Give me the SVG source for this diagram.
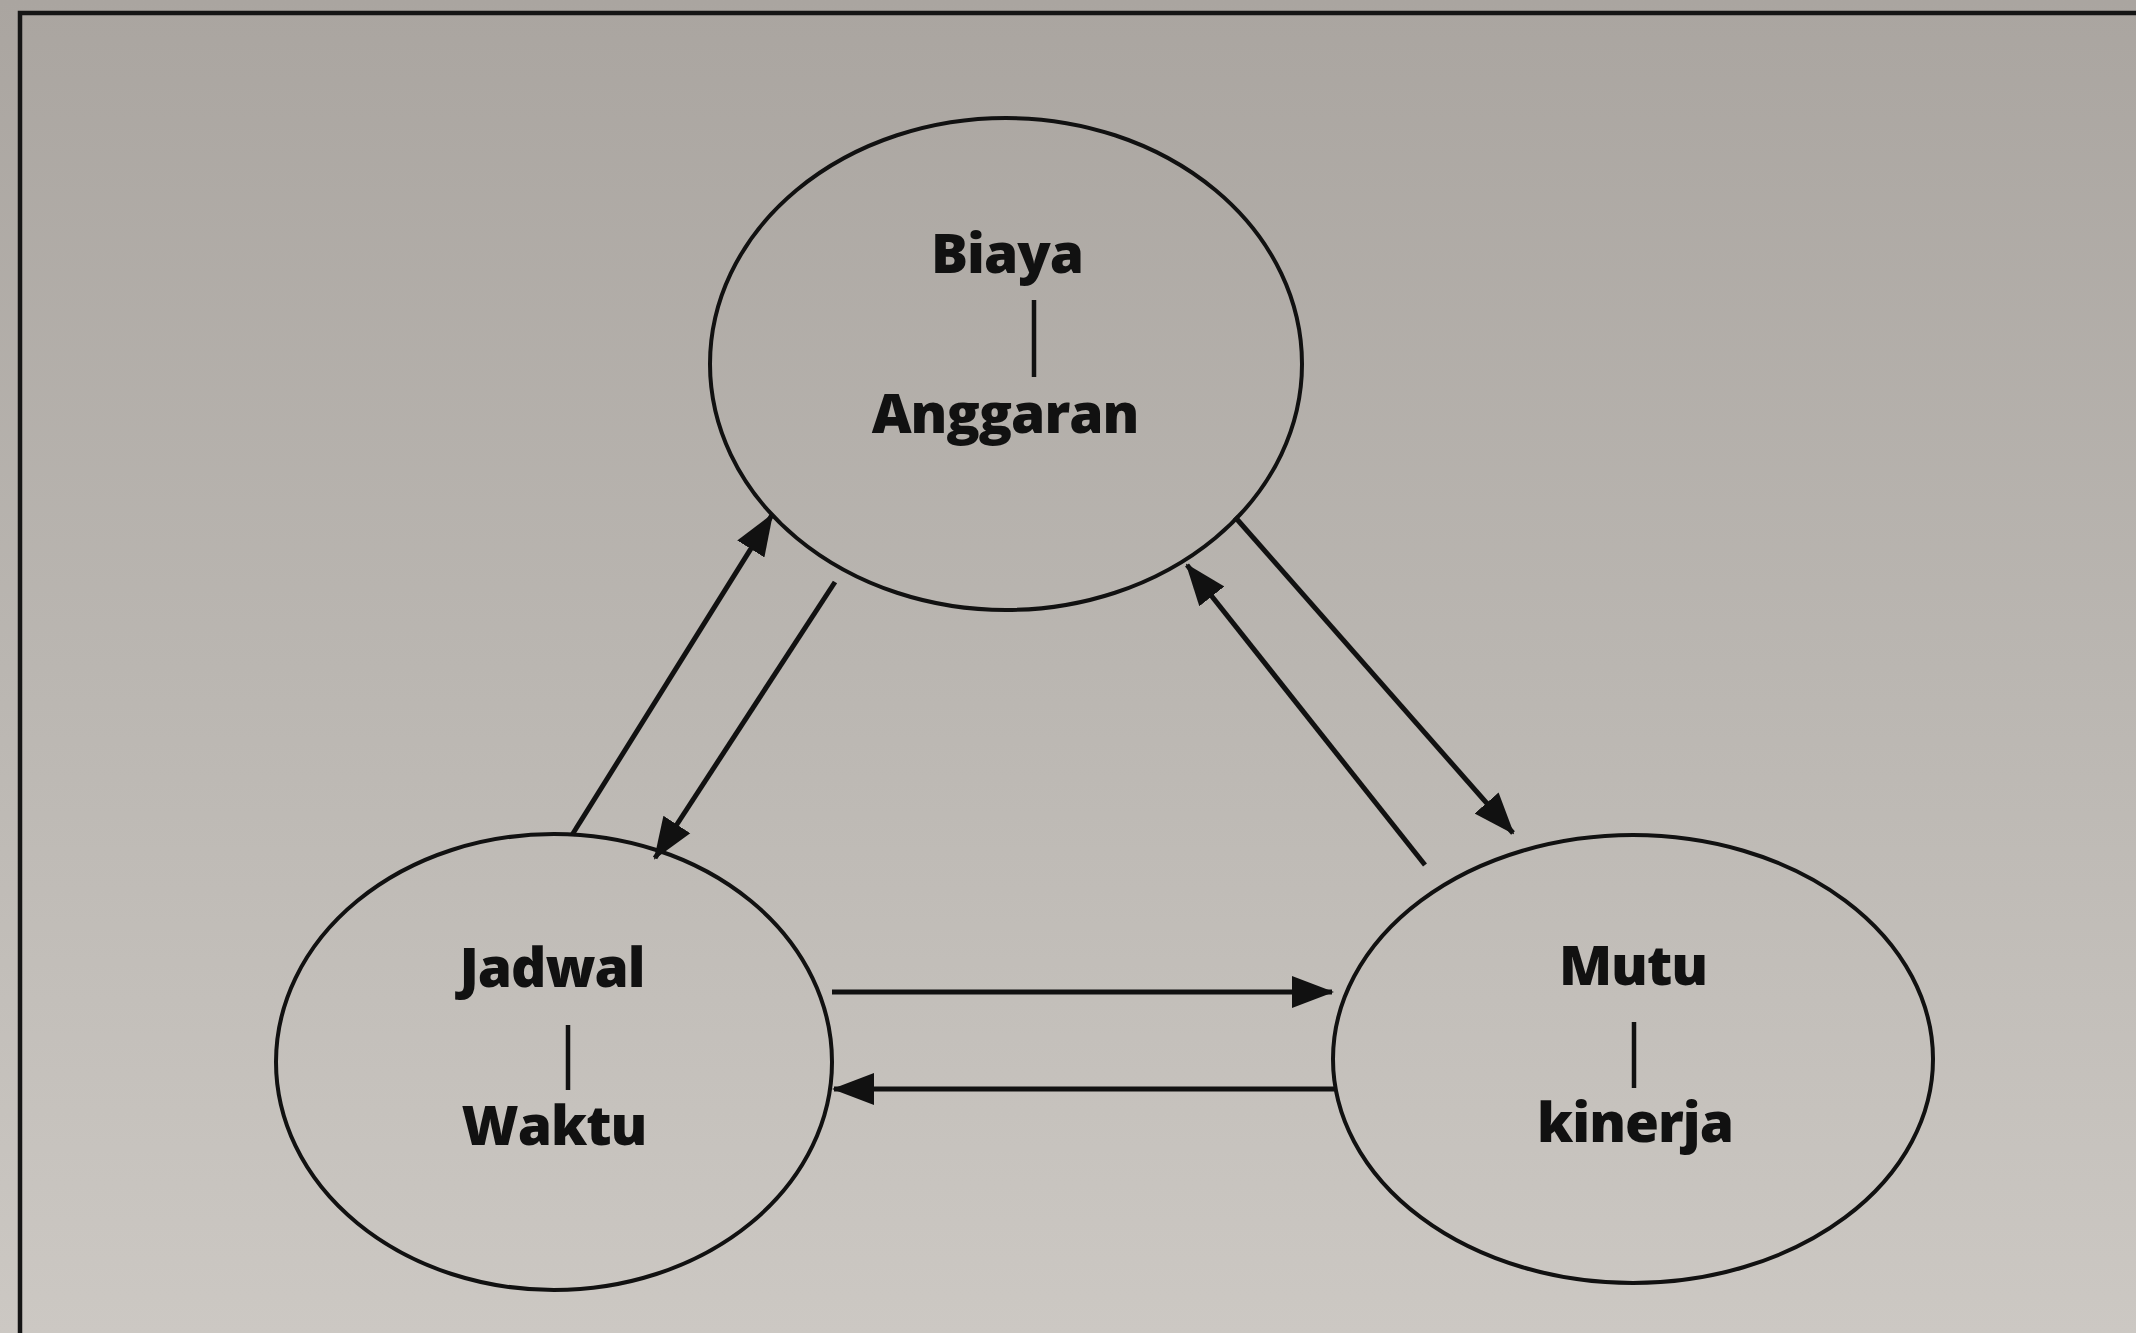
<svg xmlns="http://www.w3.org/2000/svg" width="2136" height="1333" viewBox="0 0 2136 1333">
<defs>
<linearGradient id="bg" x1="0" y1="0" x2="0" y2="1">
<stop offset="0" stop-color="#aaa5a0"/>
<stop offset="0.5" stop-color="#bab6b1"/>
<stop offset="1" stop-color="#ccc8c3"/>
</linearGradient>
<marker id="ah" markerUnits="userSpaceOnUse" markerWidth="42" markerHeight="36" viewBox="0 0 42 36" refX="40" refY="18" orient="auto">
<path d="M0,2 L42,18 L0,34 z" fill="#111"/>
</marker>
<style>
.node ellipse{fill:none;stroke:#111;stroke-width:4}
.node line{stroke:#111;stroke-width:4.5}
.node text{font-family:"Open Sans","Noto Sans",sans-serif;font-weight:800;font-size:55px;fill:#111;text-anchor:middle;letter-spacing:-1px}
.conn line{stroke:#111;stroke-width:5;fill:none}
.conn .a{marker-end:url(#ah)}
</style>
</defs>
<rect x="0" y="0" width="2136" height="1333" fill="url(#bg)"/>
<path d="M20,1333 L20,13 L2136,13" fill="none" stroke="#151515" stroke-width="4.5"/>
<g id="biaya" class="node">
<ellipse cx="1006" cy="364" rx="296" ry="246"/>
<text x="1007" y="273">Biaya</text>
<line x1="1034" y1="300" x2="1034" y2="377"/>
<text x="1005" y="433">Anggaran</text>
</g>
<g id="jadwal" class="node">
<ellipse cx="554" cy="1062" rx="278" ry="228"/>
<text x="552" y="987">Jadwal</text>
<line x1="568" y1="1025" x2="568" y2="1090"/>
<text x="554" y="1145">Waktu</text>
</g>
<g id="mutu" class="node">
<ellipse cx="1633" cy="1059" rx="300" ry="224"/>
<text x="1633" y="985">Mutu</text>
<line x1="1634" y1="1022" x2="1634" y2="1088"/>
<text x="1635" y="1142">kinerja</text>
</g>
<g id="connectors" class="conn">
<line class="a" x1="572" y1="835" x2="772" y2="515"/>
<line class="a" x1="835" y1="582" x2="655" y2="858"/>
<line class="a" x1="1235" y1="517" x2="1513" y2="833"/>
<line class="a" x1="1425" y1="865" x2="1187" y2="565"/>
<line class="a" x1="832" y1="992" x2="1332" y2="992"/>
<line class="a" x1="1334" y1="1089" x2="834" y2="1089"/>
</g>
</svg>
